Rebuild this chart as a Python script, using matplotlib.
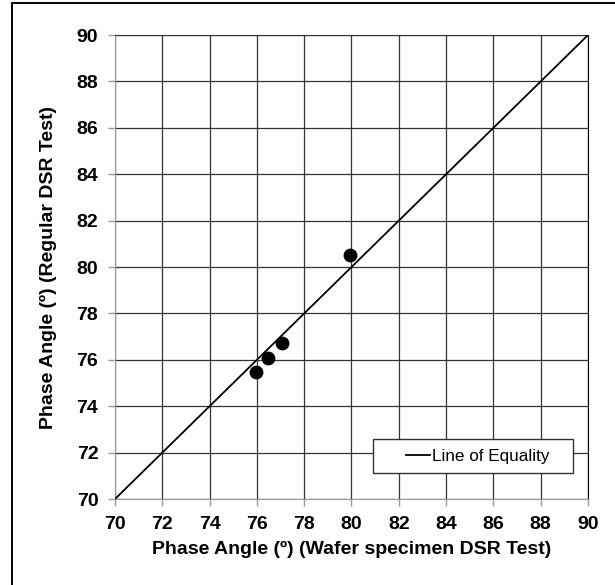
import matplotlib
matplotlib.use("Agg")
import matplotlib.pyplot as plt
from matplotlib.patches import Rectangle
from matplotlib.legend_handler import HandlerLine2D

# measured phase angles
wafer = [75.96, 76.45, 77.05, 79.93]
regular = [75.47, 76.09, 76.71, 80.51]
equality = [70, 90]
ticks = list(range(70, 91, 2))

plt.rcParams['font.family'] = ['Liberation Sans', 'DejaVu Sans']


class ShortLine(HandlerLine2D):
    # draw the legend line only in the right part of the handle box
    def create_artists(self, legend, orig_handle, xdescent, ydescent, width, height, fontsize, trans):
        arts = super().create_artists(legend, orig_handle, xdescent, ydescent, width, height, fontsize, trans)
        x0 = -xdescent
        y = arts[0].get_ydata()[0]
        arts[0].set_data([x0 + 0.5 * width, x0 + width], [y, y])
        return arts


fig = plt.figure(figsize=(6.15, 5.85), dpi=100)
ax = fig.add_axes([0.187, 0.147, 0.769, 0.793])

ax.plot(equality, equality, color='black', lw=1.3, label='Line of Equality   ', zorder=3)
ax.scatter(wafer, regular, s=80, color='black', zorder=4)

ax.set_xlim(70, 90)
ax.set_ylim(70, 90)
ax.set_xticks(ticks)
ax.set_yticks(ticks)
ax.grid(True, color='#333333', lw=0.9)
ax.set_axisbelow(True)
for side in ['left', 'bottom']:
    ax.spines[side].set_color('#999999')
ax.spines['top'].set_color('#333333')
ax.spines['right'].set_color('black')
ax.tick_params(direction='out', length=5, color='#999999', width=1, pad=7)
for lab in ax.get_xticklabels() + ax.get_yticklabels():
    lab.set_fontsize(14)
    lab.set_fontweight('bold')

ax.set_xlabel('Phase Angle (º) (Wafer specimen DSR Test)', fontsize=14, fontweight='bold', labelpad=6)
ax.set_ylabel('Phase Angle (º) (Regular DSR Test)', fontsize=14, fontweight='bold', labelpad=14)

leg = ax.legend(loc='lower right', bbox_to_anchor=(0.968, 0.056), fontsize=12.3, frameon=True,
                fancybox=False, handlelength=2.8, handletextpad=0.1, borderpad=0.55,
                borderaxespad=0, handler_map={matplotlib.lines.Line2D: ShortLine()})
leg.get_frame().set_edgecolor('#333333')
leg.get_frame().set_linewidth(1)
leg.get_frame().set_alpha(1)

# outer border: only left and top edges fall inside the image
fig.patches.append(Rectangle((0.019, -0.2), 1.2, 1.1954, transform=fig.transFigure,
                             fill=False, edgecolor='black', lw=1.4))

fig.savefig('out.png', dpi=100)
